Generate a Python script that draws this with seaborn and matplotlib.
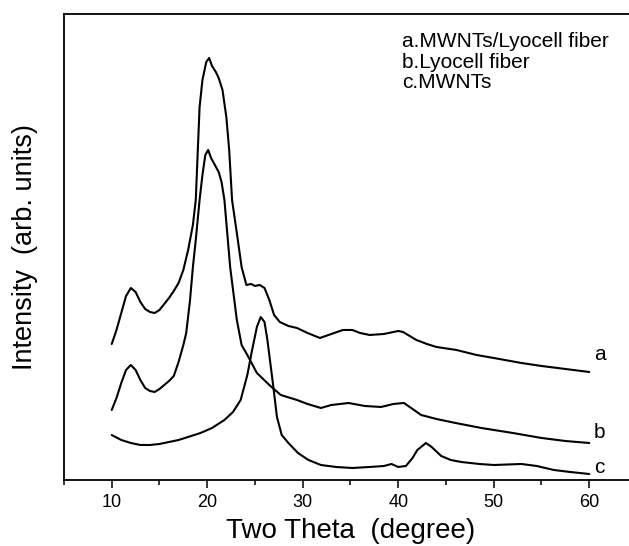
import matplotlib
matplotlib.use('Agg')
import matplotlib.pyplot as plt
import seaborn as sns
from matplotlib.ticker import MultipleLocator

# Curvas XRD (intensidad en unidades arbitrarias)
x_a = [10.0, 10.5, 11.0, 11.5, 12.0, 12.5, 13.0, 13.5, 14.0, 14.5, 15.0, 15.5,
       16.0, 16.5, 17.0, 17.5, 18.0, 18.5, 18.8, 19.2, 19.5, 19.9, 20.2, 20.5,
       20.9, 21.2, 21.6, 22.0, 22.3, 22.6, 23.1, 23.6, 24.1, 24.6, 25.0, 25.5,
       26.0, 26.5, 27.0, 27.6, 28.5, 29.4, 30.5, 31.8, 33.0, 34.2, 35.2, 36.0,
       37.0, 38.5, 40.0, 40.5, 41.2, 41.9, 43.0, 44.0, 46.1, 48.2, 50.0, 52.9,
       55.0, 57.5, 60.0]
y_a = [136, 150, 167, 184, 192, 188, 178, 171, 168, 167, 170, 176,
       182, 189, 197, 210, 230, 255, 280, 373, 400, 418, 422, 414,
       408, 402, 390, 363, 330, 280, 247, 213, 195, 196, 194, 195,
       192, 180, 165, 158, 154, 152, 147, 142, 146, 150, 150, 147,
       145, 146, 149, 148, 144, 140, 136, 133, 130, 125, 122, 117,
       114, 111, 108]

x_b = [10.0, 10.5, 11.0, 11.5, 12.0, 12.5, 13.0, 13.5, 14.0, 14.5, 15.0, 15.5,
       16.0, 16.5, 17.0, 17.5, 17.8, 18.2, 18.5, 18.8, 19.2, 19.5, 19.8, 20.1,
       20.4, 20.8, 21.2, 21.5, 21.8, 22.4, 23.1, 23.6, 24.2, 25.2, 26.5, 27.7,
       29.4, 30.5, 31.9, 33.0, 34.8, 36.5, 38.2, 39.5, 40.6, 41.5, 42.4, 44.0,
       46.0, 48.7, 52.0, 55.0, 57.5, 60.0]
y_b = [70, 82, 97, 110, 115, 110, 100, 92, 89, 88, 91, 95,
       99, 104, 118, 135, 147, 180, 213, 240, 280, 305, 325, 330,
       322, 315, 308, 298, 280, 213, 160, 135, 125, 107, 95, 85,
       80, 76, 72, 75, 77, 74, 73, 76, 77, 71, 65, 61,
       57, 52, 47, 42, 39, 37]

x_c = [10.0, 11.0, 12.0, 13.0, 14.0, 15.0, 16.0, 17.0, 18.0, 19.3, 20.5, 21.8,
       22.7, 23.5, 24.2, 24.7, 25.2, 25.6, 26.0, 26.3, 26.9, 27.3, 27.8, 28.5,
       29.5, 30.6, 31.9, 33.5, 35.2, 37.0, 38.5, 39.3, 40.0, 40.8, 41.5, 42.0,
       42.9, 43.5, 44.5, 45.5, 46.6, 48.5, 50.0, 52.9, 54.5, 56.3, 58.0, 60.0]
y_c = [45, 40, 37, 35, 35, 36, 38, 40, 43, 47, 52, 60,
       68, 80, 105, 130, 153, 163, 158, 140, 95, 63, 45, 37,
       27, 20, 15, 13, 12, 13, 14, 16, 13, 14, 22, 30,
       37, 33, 24, 20, 18, 16, 15, 16, 14, 10, 8, 6]

curvas = [(x_a, y_a), (x_b, y_b), (x_c, y_c)]
etiquetas_curva = ['a', 'b', 'c']
etiquetas_y = [125, 47, 12]
leyenda = ['a.MWNTs/Lyocell fiber', 'b.Lyocell fiber', 'c.MWNTs']

sns.set_style('ticks')
plt.rcParams['font.family'] = ['Liberation Sans', 'DejaVu Sans']
plt.rcParams['text.color'] = 'black'
plt.rcParams['axes.labelcolor'] = 'black'
plt.rcParams['xtick.color'] = 'black'

fig = plt.figure(figsize=(6.29, 5.46), dpi=100)
ax = fig.add_axes([0.1017, 0.1209, 0.911, 0.8535])

for xs, ys in curvas:
    sns.lineplot(x=xs, y=ys, ax=ax, color='black', linewidth=1.5,
                 sort=False, estimator=None)

for et, yy in zip(etiquetas_curva, etiquetas_y):
    ax.text(61.1, yy, et, ha='center', va='center', fontsize=15)

for i, txt in enumerate(leyenda):
    ax.text(40.4, 438 - i * 20.5, txt, ha='left', va='center', fontsize=15)

ax.set_xlim(5, 65)
ax.set_ylim(0, 466)
ax.xaxis.set_major_locator(MultipleLocator(10))
ax.xaxis.set_minor_locator(MultipleLocator(5))
ax.set_yticks([])
ax.tick_params(axis='x', which='major', direction='out', length=6, width=1.1,
               labelsize=13, pad=4)
ax.tick_params(axis='x', which='minor', direction='out', length=3.5, width=1.1)
for s in ax.spines.values():
    s.set_linewidth(1.3)
    s.set_color('black')

ax.set_xlabel('Two Theta  (degree)', fontsize=20, labelpad=5)
ax.set_ylabel('Intensity  (arb. units)', fontsize=19.5, labelpad=19)

fig.savefig('out.png', dpi=100)
